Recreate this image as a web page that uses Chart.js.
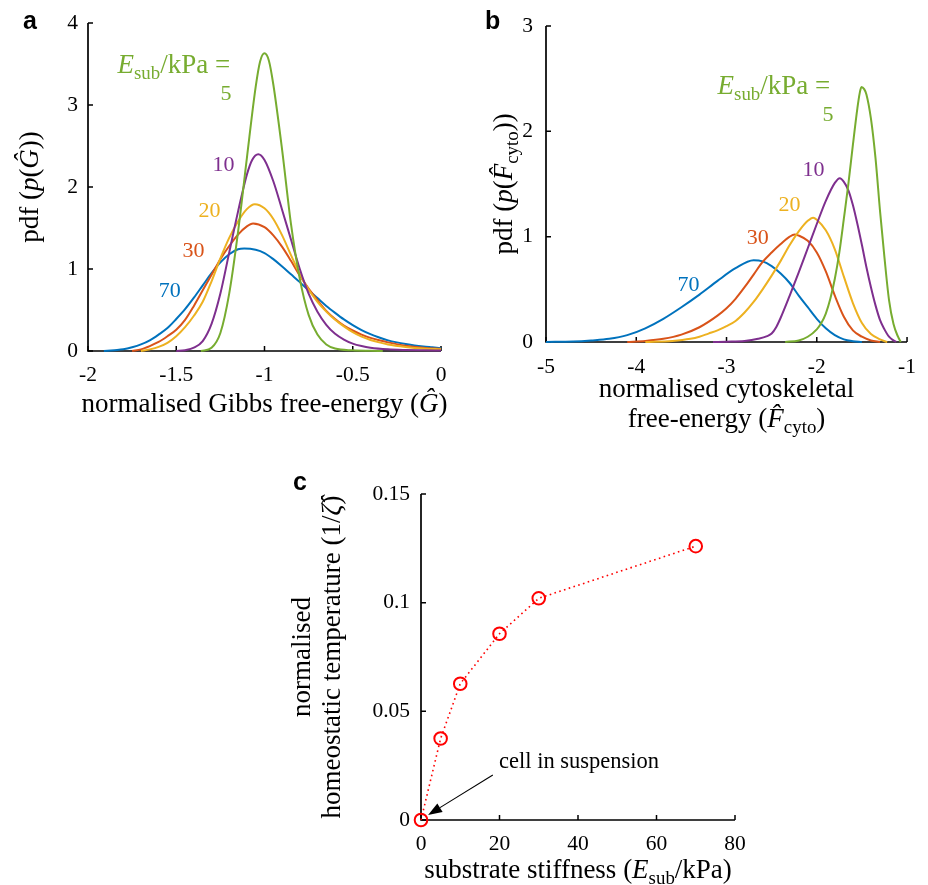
<!DOCTYPE html>
<html><head><meta charset="utf-8">
<script src="https://cdn.jsdelivr.net/npm/chart.js@4.4.1/dist/chart.umd.min.js"></script>
<style>
html,body{margin:0;padding:0;background:#fff;}
#wrap{position:relative;width:928px;height:885px;overflow:hidden;background:#fff;}
canvas{position:absolute;}
</style></head><body>
<div id="wrap">
<canvas id="ca" width="464" height="440" style="left:0;top:0"></canvas>
<canvas id="cb" width="464" height="440" style="left:464px;top:0"></canvas>
<canvas id="cc" width="520" height="430" style="left:250px;top:455px"></canvas>
</div>
<script>
// ---------------- DATA ----------------
// substrate stiffness categories (kPa)
const stiffness = [5, 10, 20, 30, 70];

// Panel a: pdf of normalised Gibbs free-energy
const aX5  = [-1.36,-1.30,-1.25,-1.20,-1.15,-1.10,-1.05,-1.025,-1.00,-0.975,-0.95,-0.90,-0.85,-0.80,-0.75,-0.70,-0.65,-0.60,-0.50,-0.40,-0.33];
const aY5  = [0,0.04,0.22,0.70,1.45,2.35,3.22,3.53,3.63,3.54,3.25,2.45,1.55,0.88,0.44,0.20,0.08,0.03,0.008,0.002,0];
const aX10 = [-1.50,-1.45,-1.40,-1.35,-1.30,-1.25,-1.20,-1.15,-1.10,-1.07,-1.035,-1.00,-0.95,-0.90,-0.85,-0.80,-0.75,-0.70,-0.65,-0.60,-0.55,-0.50,-0.45,-0.40,-0.30,-0.20,-0.10,0];
const aY10 = [0,0.01,0.04,0.12,0.33,0.70,1.20,1.70,2.15,2.33,2.40,2.33,2.07,1.72,1.36,1.00,0.70,0.48,0.32,0.21,0.14,0.09,0.06,0.04,0.02,0.012,0.008,0.005];
const aX20 = [-1.70,-1.65,-1.60,-1.55,-1.50,-1.45,-1.40,-1.35,-1.30,-1.25,-1.20,-1.15,-1.10,-1.055,-1.00,-0.95,-0.90,-0.85,-0.80,-0.75,-0.70,-0.65,-0.60,-0.55,-0.50,-0.45,-0.40,-0.35,-0.30,-0.20,-0.10,0];
const aY20 = [0,0.02,0.05,0.10,0.18,0.29,0.43,0.60,0.85,1.13,1.38,1.58,1.73,1.79,1.74,1.61,1.41,1.17,0.94,0.75,0.60,0.48,0.38,0.30,0.23,0.175,0.135,0.105,0.08,0.05,0.03,0.02];
const aX30 = [-1.75,-1.70,-1.65,-1.60,-1.55,-1.50,-1.45,-1.40,-1.35,-1.30,-1.25,-1.20,-1.15,-1.10,-1.065,-1.00,-0.95,-0.90,-0.85,-0.80,-0.75,-0.70,-0.65,-0.60,-0.55,-0.50,-0.45,-0.40,-0.35,-0.30,-0.20,-0.10,0];
const aY30 = [0,0.02,0.06,0.11,0.18,0.26,0.38,0.55,0.74,0.93,1.12,1.28,1.42,1.52,1.555,1.51,1.41,1.27,1.10,0.92,0.76,0.62,0.49,0.39,0.31,0.25,0.20,0.16,0.13,0.105,0.065,0.04,0.025];
const aX70 = [-1.91,-1.85,-1.80,-1.75,-1.70,-1.65,-1.60,-1.55,-1.50,-1.45,-1.40,-1.35,-1.30,-1.25,-1.20,-1.15,-1.115,-1.05,-1.00,-0.95,-0.90,-0.85,-0.80,-0.75,-0.70,-0.65,-0.60,-0.55,-0.50,-0.45,-0.40,-0.35,-0.30,-0.25,-0.20,-0.15,-0.10,-0.05,0];
const aY70 = [0,0.01,0.02,0.045,0.08,0.13,0.20,0.28,0.39,0.51,0.65,0.80,0.95,1.08,1.18,1.24,1.25,1.235,1.195,1.12,1.03,0.935,0.84,0.74,0.645,0.55,0.465,0.385,0.315,0.255,0.205,0.165,0.13,0.105,0.085,0.068,0.055,0.045,0.035];

// Panel b: pdf of normalised cytoskeletal free-energy
const bX5  = [-2.35,-2.20,-2.10,-2.00,-1.95,-1.90,-1.85,-1.80,-1.75,-1.70,-1.65,-1.60,-1.55,-1.525,-1.505,-1.475,-1.45,-1.40,-1.35,-1.30,-1.25,-1.20,-1.15,-1.10,-1.07];
const bY5  = [0,0.015,0.05,0.12,0.18,0.27,0.41,0.60,0.85,1.17,1.50,1.87,2.22,2.36,2.42,2.40,2.35,2.12,1.75,1.25,0.80,0.40,0.17,0.05,0];
const bX10 = [-3.15,-3.00,-2.80,-2.65,-2.55,-2.50,-2.45,-2.40,-2.30,-2.20,-2.10,-2.00,-1.90,-1.80,-1.745,-1.70,-1.65,-1.60,-1.55,-1.50,-1.45,-1.40,-1.35,-1.30,-1.25,-1.20,-1.15,-1.12];
const bY10 = [0,0.003,0.01,0.03,0.055,0.08,0.14,0.23,0.44,0.66,0.89,1.12,1.34,1.51,1.555,1.52,1.44,1.30,1.12,0.92,0.71,0.52,0.35,0.21,0.12,0.05,0.015,0];
const bX20 = [-3.90,-3.60,-3.40,-3.30,-3.20,-3.10,-3.00,-2.90,-2.80,-2.70,-2.60,-2.50,-2.40,-2.30,-2.20,-2.10,-2.04,-2.00,-1.90,-1.80,-1.70,-1.60,-1.50,-1.40,-1.30,-1.22];
const bY20 = [0,0.01,0.03,0.05,0.08,0.11,0.15,0.20,0.28,0.38,0.50,0.63,0.77,0.92,1.05,1.15,1.18,1.16,1.06,0.88,0.62,0.37,0.18,0.075,0.025,0];
const bX30 = [-4.10,-3.90,-3.70,-3.50,-3.30,-3.10,-3.00,-2.90,-2.80,-2.70,-2.60,-2.50,-2.40,-2.30,-2.245,-2.20,-2.10,-2.00,-1.90,-1.80,-1.70,-1.60,-1.50,-1.40,-1.30];
const bY30 = [0,0.01,0.03,0.07,0.14,0.25,0.32,0.41,0.52,0.64,0.76,0.85,0.93,1.00,1.02,1.01,0.96,0.85,0.67,0.44,0.24,0.11,0.05,0.015,0];
const bX70 = [-5.00,-4.70,-4.50,-4.30,-4.10,-3.90,-3.70,-3.50,-3.30,-3.10,-2.90,-2.70,-2.60,-2.50,-2.40,-2.30,-2.20,-2.10,-2.00,-1.90,-1.80,-1.70,-1.60,-1.50];
const bY70 = [0,0.005,0.015,0.03,0.065,0.13,0.22,0.33,0.45,0.58,0.70,0.775,0.765,0.72,0.65,0.56,0.44,0.33,0.22,0.13,0.065,0.025,0.008,0];

// Panel c: homeostatic temperature vs substrate stiffness
const cX = [0, 5, 10, 20, 30, 70];
const cY = [0, 0.0375, 0.0627, 0.0857, 0.102, 0.126];

// tick values
const aTicksX = [-2, -1.5, -1, -0.5, 0];
const aTicksY = [0, 1, 2, 3, 4];
const bTicksX = [-5, -4, -3, -2, -1];
const bTicksY = [0, 1, 2, 3];
const cTicksX = [0, 20, 40, 60, 80];
const cTicksY = [0, 0.05, 0.1, 0.15];

// ---------------- STYLE ----------------
const COLORS = {5:'#77AC30', 10:'#7E2F8E', 20:'#EDB120', 30:'#D95319', 70:'#0072BD'};
const SERIF = '"Liberation Serif","Times New Roman",serif';
const SANS = '"Liberation Sans",Arial,sans-serif';
const TICK_FONT = {family: SERIF, size: 21.5};
const TITLE_SIZE = 27;

function fontOf(style, size) {
  const sub = style.indexOf('s') >= 0;
  const it = style.indexOf('i') >= 0;
  return (it ? 'italic ' : '') + (sub ? size * 0.7 : size) + 'px ' + SERIF;
}
function drawRich(ctx, segs, x, y, size, color, align, rot) {
  ctx.save();
  ctx.translate(x, y);
  if (rot) ctx.rotate(rot);
  ctx.fillStyle = color;
  ctx.textBaseline = 'alphabetic';
  ctx.textAlign = 'left';
  let w = 0;
  const ws = segs.map(([t, s]) => { ctx.font = fontOf(s, size); const m = ctx.measureText(t).width; w += m; return m; });
  let cx = align === 'center' ? -w / 2 : (align === 'right' ? -w : 0);
  segs.forEach(([t, s], i) => {
    ctx.font = fontOf(s, size);
    ctx.fillText(t, cx, s.indexOf('s') >= 0 ? size * 0.22 : 0);
    cx += ws[i];
  });
  ctx.restore();
}

const axesPlugin = {
  id: 'matlabAxes',
  beforeDatasetsDraw(chart) {
    const {left, right, top, bottom} = chart.chartArea;
    const ctx = chart.ctx;
    const sx = chart.scales.x, sy = chart.scales.y;
    ctx.save();
    ctx.strokeStyle = '#000';
    ctx.lineWidth = 1.7;
    ctx.beginPath();
    ctx.moveTo(left, top); ctx.lineTo(left, bottom); ctx.lineTo(right, bottom);
    ctx.stroke();
    ctx.lineWidth = 1.5;
    ctx.beginPath();
    sx.ticks.forEach(t => { const p = sx.getPixelForValue(t.value); ctx.moveTo(p, bottom); ctx.lineTo(p, bottom - 5); });
    sy.ticks.forEach(t => { const p = sy.getPixelForValue(t.value); ctx.moveTo(left, p); ctx.lineTo(left + 5, p); });
    ctx.stroke();
    ctx.restore();
  }
};

function makeOptions(xr, xt, yr, yt, yW, xH, pad, xPad, yPad) {
  return {
    responsive: false, animation: false, devicePixelRatio: 1,
    layout: {padding: pad},
    plugins: {legend: {display: false}, tooltip: {enabled: false}},
    elements: {point: {radius: 0}},
    scales: {
      x: {type: 'linear', min: xr[0], max: xr[1],
          afterBuildTicks: s => { s.ticks = xt.map(v => ({value: v})); },
          afterFit: s => { s.height = xH; },
          ticks: {font: TICK_FONT, color: '#000', padding: xPad, maxRotation: 0, autoSkip: false, callback: v => String(v)},
          grid: {display: false, drawTicks: false}, border: {display: false}},
      y: {type: 'linear', min: yr[0], max: yr[1],
          afterBuildTicks: s => { s.ticks = yt.map(v => ({value: v})); },
          afterFit: s => { s.width = yW; },
          ticks: {font: TICK_FONT, color: '#000', padding: yPad, autoSkip: false, callback: v => String(v)},
          grid: {display: false, drawTicks: false}, border: {display: false}}
    }
  };
}

function curveSet(list) {
  return list.map(([xs, ys, k]) => ({
    data: xs.map((x, i) => ({x: x, y: ys[i]})),
    borderColor: COLORS[k], borderWidth: 2, pointRadius: 0, fill: false,
    cubicInterpolationMode: 'monotone', clip: false
  }));
}

// in-plot label anchors (data units) for panels a and b
const aLabelAt = {head: [-1.19, 3.39], 5: [-1.187, 3.06], 10: [-1.17, 2.20], 20: [-1.25, 1.63], 30: [-1.34, 1.15], 70: [-1.475, 0.66]};
const bLabelAt = {head: [-1.842, 2.353], 5: [-1.816, 2.10], 10: [-1.915, 1.573], 20: [-2.18, 1.242], 30: [-2.533, 0.933], 70: [-3.30, 0.487]};

function drawSeriesLabels(chart, at) {
  const ctx = chart.ctx, sx = chart.scales.x, sy = chart.scales.y;
  const h = at.head;
  drawRich(ctx, [['E', 'i'], ['sub', 's'], ['/kPa = ', 'n']], sx.getPixelForValue(h[0]) + 6, sy.getPixelForValue(h[1]), 27, COLORS[5], 'right');
  stiffness.forEach(k => {
    const p = at[k];
    drawRich(ctx, [[String(k), 'n']], sx.getPixelForValue(p[0]), sy.getPixelForValue(p[1]), 22, COLORS[k], 'right');
  });
}
function panelLetter(ctx, t, x, y) {
  ctx.save(); ctx.font = 'bold 25px ' + SANS; ctx.fillStyle = '#000'; ctx.textBaseline = 'alphabetic'; ctx.textAlign = 'left';
  ctx.fillText(t, x, y); ctx.restore();
}

// ---------------- PANEL A ----------------
new Chart(document.getElementById('ca'), {
  type: 'line',
  data: {datasets: curveSet([[aX5, aY5, 5], [aX10, aY10, 10], [aX20, aY20, 20], [aX30, aY30, 30], [aX70, aY70, 70]])},
  options: makeOptions([-2, 0], aTicksX, [0, 4], aTicksY, 88, 89, {left: 0, right: 23, top: 23, bottom: 0}, 11, 10),
  plugins: [axesPlugin, {
    id: 'decoA',
    afterDatasetsDraw(chart) {
      const ctx = chart.ctx, ca = chart.chartArea;
      drawSeriesLabels(chart, aLabelAt);
      const cxm = (ca.left + ca.right) / 2, cym = (ca.top + ca.bottom) / 2;
      drawRich(ctx, [['normalised Gibbs free-energy (', 'n'], ['\u011C', 'i'], [')', 'n']], cxm, ca.bottom + 61, TITLE_SIZE, '#000', 'center');
      drawRich(ctx, [['pdf (', 'n'], ['p', 'i'], ['(', 'n'], ['\u011C', 'i'], ['))', 'n']], ca.left - 50, cym, TITLE_SIZE, '#000', 'center', -Math.PI / 2);
      panelLetter(ctx, 'a', 23, 29);
    }
  }]
});

// ---------------- PANEL B ----------------
new Chart(document.getElementById('cb'), {
  type: 'line',
  data: {datasets: curveSet([[bX5, bY5, 5], [bX10, bY10, 10], [bX20, bY20, 20], [bX30, bY30, 30], [bX70, bY70, 70]])},
  options: makeOptions([-5, -1], bTicksX, [0, 3], bTicksY, 82, 98, {left: 0, right: 16, top: 22, bottom: 0}, 12, 13),
  plugins: [axesPlugin, {
    id: 'decoB',
    afterDatasetsDraw(chart) {
      const ctx = chart.ctx, ca = chart.chartArea;
      drawSeriesLabels(chart, bLabelAt);
      const cxm = (ca.left + ca.right) / 2, cym = (ca.top + ca.bottom) / 2;
      drawRich(ctx, [['normalised cytoskeletal', 'n']], cxm, ca.bottom + 55, TITLE_SIZE, '#000', 'center');
      drawRich(ctx, [['free-energy (', 'n'], ['F\u0302', 'i'], ['cyto', 's'], [')', 'n']], cxm, ca.bottom + 85, TITLE_SIZE, '#000', 'center');
      drawRich(ctx, [['pdf (', 'n'], ['p', 'i'], ['(', 'n'], ['F\u0302', 'i'], ['cyto', 's'], ['))', 'n']], ca.left - 34, cym, TITLE_SIZE, '#000', 'center', -Math.PI / 2);
      panelLetter(ctx, 'b', 21, 29);
    }
  }]
});

// ---------------- PANEL C ----------------
const cArrow = {from: [18.3, 0.0207], to: [1.8, 0.0023], textAt: [19.9, 0.0238]};
new Chart(document.getElementById('cc'), {
  type: 'line',
  data: {datasets: [{
    data: cX.map((x, i) => ({x: x, y: cY[i]})),
    borderColor: '#FF0000', borderWidth: 1.6, borderDash: [1.6, 3.4], fill: false, tension: 0,
    pointRadius: 6.3, pointBorderWidth: 2, pointBorderColor: '#FF0000', pointBackgroundColor: 'rgba(0,0,0,0)',
    pointStyle: 'circle', clip: false
  }]},
  options: makeOptions([0, 80], cTicksX, [0, 0.15], cTicksY, 171, 65, {left: 0, right: 35, top: 39, bottom: 0}, 11, 11),
  plugins: [axesPlugin, {
    id: 'decoC',
    afterDatasetsDraw(chart) {
      const ctx = chart.ctx, ca = chart.chartArea, sx = chart.scales.x, sy = chart.scales.y;
      const cxm = (ca.left + ca.right) / 2, cym = (ca.top + ca.bottom) / 2;
      // arrow
      const x1 = sx.getPixelForValue(cArrow.from[0]), y1 = sy.getPixelForValue(cArrow.from[1]);
      const x2 = sx.getPixelForValue(cArrow.to[0]), y2 = sy.getPixelForValue(cArrow.to[1]);
      const ang = Math.atan2(y2 - y1, x2 - x1), L = 14, W = 5;
      const bx = x2 - L * Math.cos(ang), by = y2 - L * Math.sin(ang);
      ctx.save();
      ctx.strokeStyle = '#000'; ctx.fillStyle = '#000'; ctx.lineWidth = 1.1;
      ctx.beginPath(); ctx.moveTo(x1, y1); ctx.lineTo(bx, by); ctx.stroke();
      ctx.beginPath(); ctx.moveTo(x2, y2);
      ctx.lineTo(bx + W * Math.sin(ang), by - W * Math.cos(ang));
      ctx.lineTo(bx - W * Math.sin(ang), by + W * Math.cos(ang));
      ctx.closePath(); ctx.fill();
      ctx.restore();
      drawRich(ctx, [['cell in suspension', 'n']], sx.getPixelForValue(cArrow.textAt[0]), sy.getPixelForValue(cArrow.textAt[1]), 22.5, '#000', 'left');
      drawRich(ctx, [['substrate stiffness (', 'n'], ['E', 'i'], ['sub', 's'], ['/kPa)', 'n']], cxm, ca.bottom + 58, TITLE_SIZE, '#000', 'center');
      drawRich(ctx, [['normalised', 'n']], ca.left - 111, cym, TITLE_SIZE, '#000', 'center', -Math.PI / 2);
      drawRich(ctx, [['homeostatic temperature (1/', 'n'], ['\u03B6\u0302', 'i'], [')', 'n']], ca.left - 81, cym, TITLE_SIZE, '#000', 'center', -Math.PI / 2);
      panelLetter(ctx, 'c', 43, 35);
    }
  }]
});
</script>
</body></html>
